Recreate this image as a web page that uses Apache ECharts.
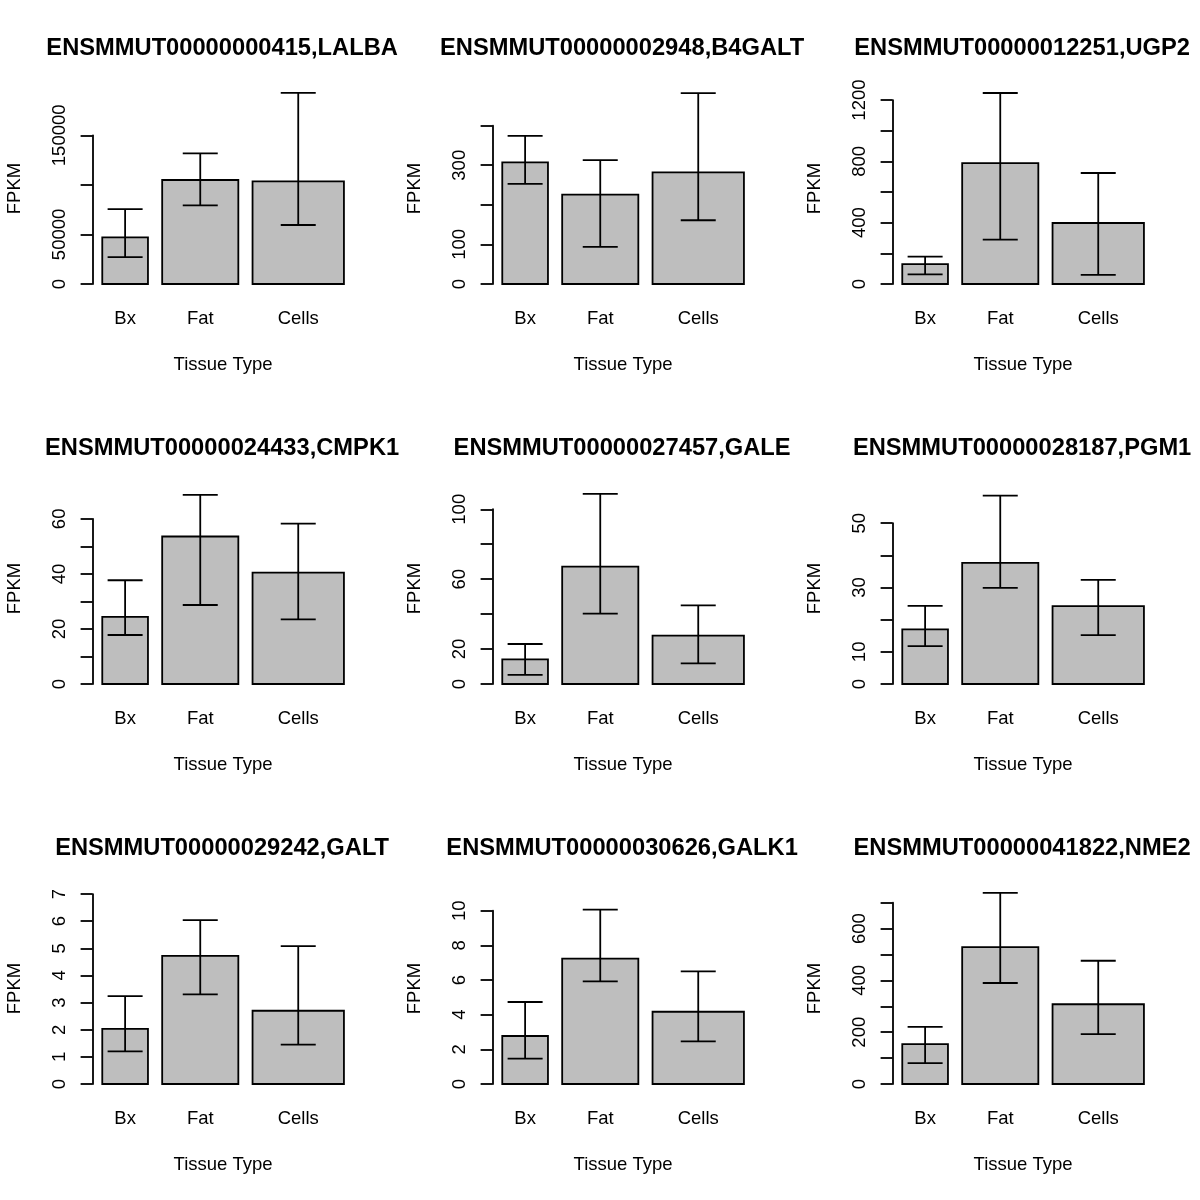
<!DOCTYPE html>
<html><head><meta charset="utf-8">
<script src="https://cdn.jsdelivr.net/npm/echarts@6/dist/echarts.min.js"></script>
<style>html,body{margin:0;padding:0;background:#fff}#c{width:1200px;height:1200px}</style>
</head><body><div id="c"></div>
<script>
// ---------------- data ----------------
const panelTitles = [
  'ENSMMUT00000000415,LALBA', 'ENSMMUT00000002948,B4GALT', 'ENSMMUT00000012251,UGP2',
  'ENSMMUT00000024433,CMPK1', 'ENSMMUT00000027457,GALE', 'ENSMMUT00000028187,PGM1',
  'ENSMMUT00000029242,GALT', 'ENSMMUT00000030626,GALK1', 'ENSMMUT00000041822,NME2'
];
const categories = ['Bx', 'Fat', 'Cells'];
const groupSizes = [3, 5, 6];           // relative bar widths (barplot width=)
const barMeans = [
  [47100, 104900, 103600], [307, 226, 282], [130, 789, 398],
  [24.4, 53.6, 40.5], [14.1, 67.2, 27.7], [17.0, 37.7, 24.2],
  [2.03, 4.72, 2.70], [2.77, 7.23, 4.17], [154, 529, 308]
];
const errLower = [
  [27200, 79400, 59500], [253, 94, 161], [63, 289, 59],
  [17.8, 28.7, 23.5], [5.2, 40.3, 11.8], [11.8, 29.9, 15.2],
  [1.20, 3.30, 1.45], [1.46, 5.92, 2.46], [81, 390, 193]
];
const errUpper = [
  [75600, 131800, 192700], [374, 313, 482], [178, 1246, 724],
  [37.7, 68.7, 58.3], [22.9, 108.8, 45.0], [24.3, 58.6, 32.4],
  [3.24, 6.04, 5.08], [4.73, 10.06, 6.50], [221, 738, 476]
];
const yLimitMax = [192670, 482.5, 1246, 69.4, 109.3, 59.4, 7.04, 11.02, 737.7]; // R ylim upper
const yTickMax  = [150000, 400, 1200, 60, 100, 50, 7, 10, 700];
const yTickStep = [50000, 100, 200, 10, 20, 10, 1, 2, 100];
const yTickShown = [
  [0, 50000, 150000], [0, 100, 300], [0, 400, 800, 1200],
  [0, 20, 40, 60], [0, 20, 60, 100], [0, 10, 30, 50],
  [0, 1, 2, 3, 4, 5, 6, 7], [0, 2, 4, 6, 8, 10], [0, 200, 400, 600]
];
const xAxisTitle = 'Tissue Type';
const yAxisTitle = 'FPKM';

// ---------------- layout (R barplot geometry) ----------------
const FONT = '"Liberation Sans", Arial, Helvetica, sans-serif';
const PANEL = 400;
const ZERO_Y = 284;        // pixel row of y=0 inside a panel
const SPAN = 191;          // pixels from y=0 to ylim max
const PLOT_LEFT = 92.6;
const PLOT_WIDTH = 261;

const meanW = groupSizes.reduce((a, b) => a + b, 0) / groupSizes.length;
const space = 0.2 * meanW;
const barLeft = [], barCenter = [];
let acc = 0;
groupSizes.forEach(w => { acc += space; barLeft.push(acc); barCenter.push(acc + w / 2); acc += w; });
const xr0 = barLeft[0], xr1 = acc;
const xMin = xr0 - 0.04 * (xr1 - xr0), xMax = xr1 + 0.04 * (xr1 - xr0);

const grids = [], xAxes = [], yAxes = [], series = [], titles = [], graphics = [];

function renderItem(params, api) {
  const xc = api.value(0), m = api.value(1), lo = api.value(2), hi = api.value(3), w = api.value(4);
  const pA = api.coord([xc - w / 2, 0]);
  const pB = api.coord([xc + w / 2, m]);
  const pl = api.coord([xc, lo]);
  const ph = api.coord([xc, hi]);
  const cx = api.coord([xc, m])[0];
  const half = 17.5;
  const ls = { stroke: '#000', lineWidth: 1.8 };
  return {
    type: 'group',
    children: [
      { type: 'rect', shape: { x: pA[0], y: pB[1], width: pB[0] - pA[0], height: pA[1] - pB[1] },
        style: { fill: '#bebebe', stroke: '#000', lineWidth: 1.8 } },
      { type: 'line', shape: { x1: cx, y1: pl[1], x2: cx, y2: ph[1] }, style: ls },
      { type: 'line', shape: { x1: cx - half, y1: ph[1], x2: cx + half, y2: ph[1] }, style: ls },
      { type: 'line', shape: { x1: cx - half, y1: pl[1], x2: cx + half, y2: pl[1] }, style: ls }
    ]
  };
}

for (let i = 0; i < 9; i++) {
  const col = i % 3, row = Math.floor(i / 3);
  const ox = col * PANEL, oy = row * PANEL;
  const topPx = ZERO_Y - SPAN * yTickMax[i] / yLimitMax[i];
  grids.push({ left: ox + PLOT_LEFT, top: oy + topPx, width: PLOT_WIDTH, height: ZERO_Y - topPx, containLabel: false });
  const shown = yTickShown[i];
  xAxes.push({
    type: 'value', gridIndex: i, min: xMin, max: xMax,
    axisLine: { show: false }, axisTick: { show: false }, splitLine: { show: false },
    axisLabel: {
      customValues: barCenter, margin: 25.5, color: '#000', fontSize: 18.5, fontFamily: FONT,
      formatter: v => { let k = 0, d = Infinity; barCenter.forEach((c, j) => { if (Math.abs(c - v) < d) { d = Math.abs(c - v); k = j; } }); return categories[k]; }
    },
    name: xAxisTitle, nameLocation: 'middle', nameGap: 71.5,
    nameTextStyle: { color: '#000', fontSize: 18.5, fontFamily: FONT }
  });
  yAxes.push({
    type: 'value', gridIndex: i, min: 0, max: yTickMax[i], interval: yTickStep[i],
    axisLine: { show: true, lineStyle: { color: '#000', width: 1.8 } },
    axisTick: { show: true, length: 12, lineStyle: { color: '#000', width: 1.8 } },
    splitLine: { show: false },
    axisLabel: {
      rotate: 90, margin: 23, color: '#000', fontSize: 18.5, fontFamily: FONT,
      formatter: v => shown.some(s => Math.abs(s - v) < 1e-9) ? String(v) : ''
    }
  });
  series.push({
    type: 'custom', xAxisIndex: i, yAxisIndex: i, clip: false, renderItem,
    data: categories.map((c, j) => [barCenter[j], barMeans[i][j], errLower[i][j], errUpper[i][j], groupSizes[j]]),
    encode: { x: 0, y: [1, 2, 3] }, silent: true
  });
  titles.push({
    text: panelTitles[i], left: ox + PLOT_LEFT + PLOT_WIDTH / 2 - 1, top: oy + 36, textAlign: 'center', padding: 0,
    textStyle: { color: '#000', fontSize: 23.7, fontWeight: 'bold', fontFamily: FONT }
  });
  graphics.push({
    type: 'text', x: ox + 15, y: oy + 188.5, rotation: Math.PI / 2,
    style: { text: yAxisTitle, fill: '#000', font: '18.5px ' + FONT, textAlign: 'center', textVerticalAlign: 'middle' }
  });
}

const chart = echarts.init(document.getElementById('c'), null, { renderer: 'canvas' });
chart.setOption({
  backgroundColor: '#fff', animation: false,
  title: titles, grid: grids, xAxis: xAxes, yAxis: yAxes, series, graphic: graphics
});
</script>
</body></html>
